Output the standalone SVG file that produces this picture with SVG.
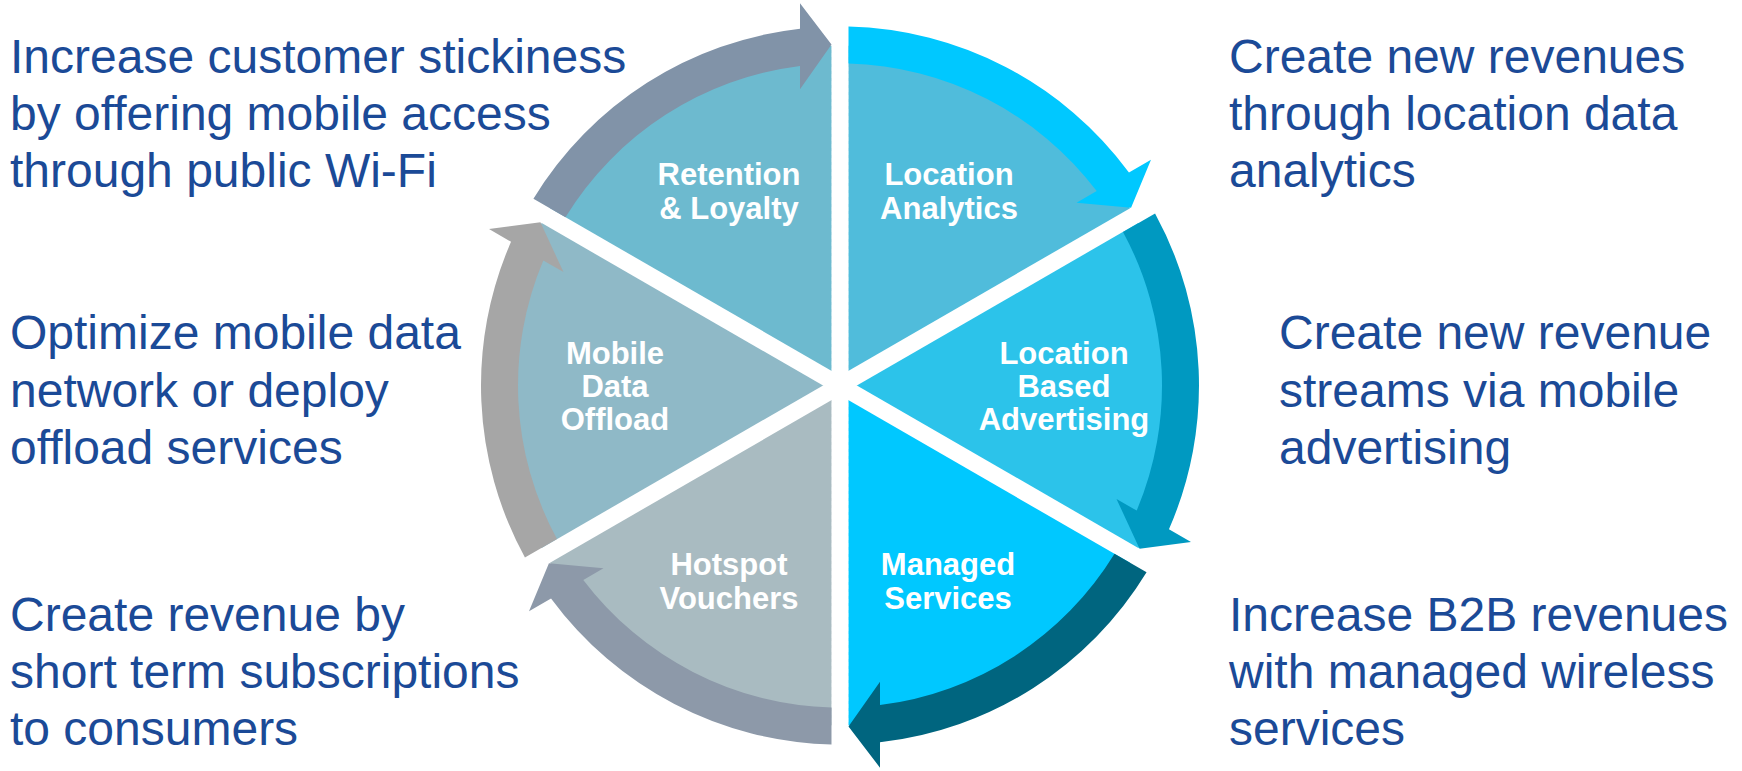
<svg xmlns="http://www.w3.org/2000/svg" width="1742" height="771" viewBox="0 0 1742 771">
<defs>
<style>
.desc{font-family:"Liberation Sans",Arial,sans-serif;font-size:48px;fill:#1B4A97}
.lbl{font-family:"Liberation Sans",Arial,sans-serif;font-size:31px;font-weight:bold;fill:#FFFFFF;text-anchor:middle}
.gap{stroke:#FFFFFF;stroke-width:17;fill:none}
.dash{stroke:#FFFFFF;stroke-opacity:0.45;stroke-width:1.3;stroke-dasharray:4 3;fill:none}
</style>
<path id="wedge" d="M0 0 L-294.45 -170 A340 340 0 0 1 0 -340 Z"/>
<path id="arrow" d="M-306.56 -186.81 A359 359 0 0 1 -40 -356.76 L-40 -382.2 L-8.5 -341 L-40 -296.2 L-40 -319.51 A322 322 0 0 0 -274.51 -168.3 Z"/>
</defs>
<rect width="1742" height="771" fill="#FFFFFF"/>

<g id="wedges" transform="translate(840 385.5)">
<use href="#wedge" fill="#6DBACF" transform="rotate(0)"/>
<use href="#wedge" fill="#50BCDB" transform="rotate(60)"/>
<use href="#wedge" fill="#2CC3EA" transform="rotate(120)"/>
<use href="#wedge" fill="#00C8FF" transform="rotate(180)"/>
<use href="#wedge" fill="#A9BBC1" transform="rotate(240)"/>
<use href="#wedge" fill="#8FB9C7" transform="rotate(300)"/>
</g>

<g id="gaps">
<line class="gap" x1="840" y1="-5" x2="840" y2="776"/>
<line class="gap" x1="502.3" y1="190.5" x2="1177.7" y2="580.5"/>
<line class="gap" x1="502.3" y1="580.5" x2="1177.7" y2="190.5"/>
<line class="dash" x1="832.3" y1="46" x2="832.3" y2="725"/>
<line class="dash" x1="847.7" y1="46" x2="847.7" y2="725"/>
</g>

<g id="connectors" transform="translate(840 385.5)">
<use id="arrow-retention" href="#arrow" fill="#8193A8" transform="rotate(0)"/>
<use id="arrow-location-analytics" href="#arrow" fill="#00C8FF" transform="rotate(60)"/>
<use id="arrow-location-advertising" href="#arrow" fill="#0099C1" transform="rotate(120)"/>
<use id="arrow-managed" href="#arrow" fill="#00657F" transform="rotate(180)"/>
<use id="arrow-hotspot" href="#arrow" fill="#8D99A9" transform="rotate(240)"/>
<use id="arrow-offload" href="#arrow" fill="#A6A6A6" transform="rotate(300)"/>
</g>

<g id="node-retention">
<text class="lbl" x="729" y="185">Retention</text>
<text class="lbl" x="729" y="219">&amp; Loyalty</text>
</g>
<g id="node-location-analytics">
<text class="lbl" x="949" y="185">Location</text>
<text class="lbl" x="949" y="219">Analytics</text>
</g>
<g id="node-mobile-data-offload">
<text class="lbl" x="615" y="364">Mobile</text>
<text class="lbl" x="615" y="397">Data</text>
<text class="lbl" x="615" y="430">Offload</text>
</g>
<g id="node-location-based-advertising">
<text class="lbl" x="1064" y="364">Location</text>
<text class="lbl" x="1064" y="397">Based</text>
<text class="lbl" x="1064" y="430">Advertising</text>
</g>
<g id="node-hotspot-vouchers">
<text class="lbl" x="729" y="575">Hotspot</text>
<text class="lbl" x="729" y="609">Vouchers</text>
</g>
<g id="node-managed-services">
<text class="lbl" x="948" y="575">Managed</text>
<text class="lbl" x="948" y="609">Services</text>
</g>

<g id="desc-retention">
<text class="desc" x="10" y="73">Increase customer stickiness</text>
<text class="desc" x="10" y="130">by offering mobile access</text>
<text class="desc" x="10" y="187">through public Wi-Fi</text>
</g>
<g id="desc-offload">
<text class="desc" x="10" y="349">Optimize mobile data</text>
<text class="desc" x="10" y="407">network or deploy</text>
<text class="desc" x="10" y="464">offload services</text>
</g>
<g id="desc-hotspot">
<text class="desc" x="10" y="631">Create revenue by</text>
<text class="desc" x="10" y="688">short term subscriptions</text>
<text class="desc" x="10" y="745">to consumers</text>
</g>
<g id="desc-location-analytics">
<text class="desc" x="1229" y="73">Create new revenues</text>
<text class="desc" x="1229" y="130">through location data</text>
<text class="desc" x="1229" y="187">analytics</text>
</g>
<g id="desc-advertising">
<text class="desc" x="1279" y="349">Create new revenue</text>
<text class="desc" x="1279" y="407">streams via mobile</text>
<text class="desc" x="1279" y="464">advertising</text>
</g>
<g id="desc-managed">
<text class="desc" x="1229" y="631">Increase B2B revenues</text>
<text class="desc" x="1229" y="688">with managed wireless</text>
<text class="desc" x="1229" y="745">services</text>
</g>
</svg>
